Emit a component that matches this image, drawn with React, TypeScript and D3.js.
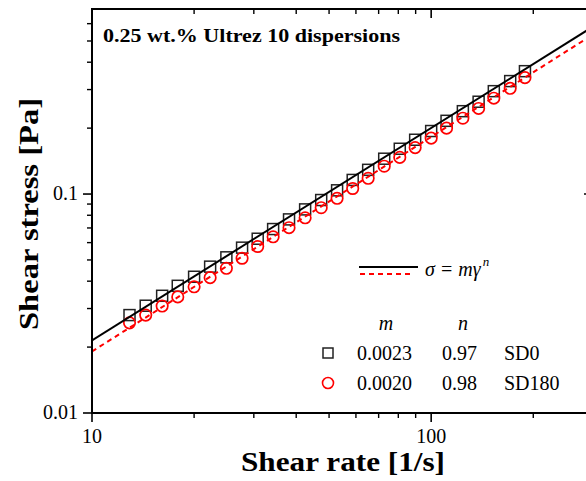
import React from "react";
import * as d3 from "d3";

// values
const shearRate = [12.9, 14.4, 16.1, 17.9, 20.0, 22.3, 24.9, 27.7, 30.8, 34.2, 38.1, 42.5, 47.4, 52.8, 58.7, 65.2, 72.7, 80.8, 89.7, 100, 111, 124, 138, 153, 171, 189];
const stressSD0 = [0.028, 0.0309, 0.0343, 0.0381, 0.0419, 0.0466, 0.0514, 0.0569, 0.0625, 0.0692, 0.0766, 0.0851, 0.0939, 0.104, 0.116, 0.129, 0.145, 0.161, 0.177, 0.194, 0.216, 0.239, 0.264, 0.295, 0.328, 0.364];
const stressSD180 = [0.0258, 0.028, 0.0308, 0.0339, 0.0377, 0.0415, 0.0458, 0.0509, 0.0576, 0.0638, 0.0702, 0.0779, 0.0866, 0.0956, 0.106, 0.118, 0.134, 0.147, 0.163, 0.18, 0.2, 0.222, 0.246, 0.274, 0.304, 0.34];
const seriesNames = ["SD0", "SD180"];
const fitM = ["0.0023", "0.0020"];
const fitN = ["0.97", "0.98"];
const xTickLabels = [10, 100];
const yTickLabels = [0.01, 0.1];
const xMinor = [20, 30, 40, 50, 60, 70, 80, 90, 200];
const yMinor = [0.02, 0.03, 0.04, 0.05, 0.06, 0.07, 0.08, 0.09, 0.2, 0.3, 0.4, 0.5, 0.6];

const W = 586;
const H = 481;
const frame = { left: 92, right: 593, top: 9, bottom: 413 };
const serif = "'Liberation Serif', 'DejaVu Serif', serif";

export default function App() {
  const x = d3.scaleLog().domain([10, 300]).range([frame.left, frame.right]);
  const y = d3.scaleLog().domain([0.01, 0.7]).range([frame.bottom, frame.top]);

  const fitLine = (i: number) => {
    const m = +fitM[i];
    const n = +fitN[i];
    const pts = [10, 300].map((g) => [g, m * Math.pow(g, n)] as [number, number]);
    return d3
      .line<[number, number]>()
      .x((d) => x(d[0]))
      .y((d) => y(d[1]))(pts) as string;
  };

  const axisStroke = "#000";

  return (
    <svg
      width={W}
      height={H}
      style={{ position: "absolute", left: 0, top: 0, background: "#fff" }}
      fontFamily={serif}
    >
      <defs>
        <clipPath id="plot">
          <rect x={frame.left} y={frame.top} width={frame.right - frame.left} height={frame.bottom - frame.top} />
        </clipPath>
      </defs>

      {/* markers */}
      <g clipPath="url(#plot)">
        {shearRate.map((g, i) => (
          <rect
            key={"s" + i}
            x={x(g) - 5.5}
            y={y(stressSD0[i]) - 5.5}
            width={11}
            height={11}
            fill="none"
            stroke="#222"
            strokeWidth={1.5}
          />
        ))}
        {shearRate.map((g, i) => (
          <circle
            key={"c" + i}
            cx={x(g)}
            cy={y(stressSD180[i])}
            r={5.7}
            fill="none"
            stroke="#ff0000"
            strokeWidth={1.7}
          />
        ))}
        <path d={fitLine(0)} fill="none" stroke="#000" strokeWidth={2} />
        <path d={fitLine(1)} fill="none" stroke="#ff0000" strokeWidth={2} strokeDasharray="5,4" />
      </g>

      {/* frame */}
      <rect
        x={frame.left}
        y={frame.top}
        width={frame.right - frame.left}
        height={frame.bottom - frame.top}
        fill="none"
        stroke={axisStroke}
        strokeWidth={2}
      />

      {/* x ticks */}
      {xTickLabels.map((t) => (
        <g key={"xt" + t}>
          <line x1={x(t)} x2={x(t)} y1={frame.bottom} y2={frame.bottom + 9} stroke={axisStroke} strokeWidth={1.6} />
          <line x1={x(t)} x2={x(t)} y1={frame.top} y2={frame.top + 9} stroke={axisStroke} strokeWidth={1.6} />
          <text x={x(t)} y={frame.bottom + 30} textAnchor="middle" fontSize={20}>
            {t}
          </text>
        </g>
      ))}
      {xMinor.map((t) => (
        <g key={"xm" + t}>
          <line x1={x(t)} x2={x(t)} y1={frame.bottom} y2={frame.bottom + 5} stroke={axisStroke} strokeWidth={1.4} />
          <line x1={x(t)} x2={x(t)} y1={frame.top} y2={frame.top + 5} stroke={axisStroke} strokeWidth={1.4} />
        </g>
      ))}

      {/* y ticks */}
      {yTickLabels.map((t) => (
        <g key={"yt" + t}>
          <line x1={frame.left - 9} x2={frame.left} y1={y(t)} y2={y(t)} stroke={axisStroke} strokeWidth={1.6} />
          <line x1={frame.right - 9} x2={frame.right} y1={y(t)} y2={y(t)} stroke={axisStroke} strokeWidth={1.6} />
          <text x={frame.left - 14} y={y(t) + 6} textAnchor="end" fontSize={20}>
            {t}
          </text>
        </g>
      ))}
      {yMinor.map((t) => (
        <g key={"ym" + t}>
          <line x1={frame.left - 5} x2={frame.left} y1={y(t)} y2={y(t)} stroke={axisStroke} strokeWidth={1.4} />
          <line x1={frame.right - 5} x2={frame.right} y1={y(t)} y2={y(t)} stroke={axisStroke} strokeWidth={1.4} />
        </g>
      ))}

      {/* axis titles */}
      <text
        x={343}
        y={471}
        textAnchor="middle"
        fontSize={28}
        fontWeight="bold"
        textLength={204}
        lengthAdjust="spacingAndGlyphs"
      >
        Shear rate [1/s]
      </text>
      <text
        transform="translate(38,214) rotate(-90)"
        textAnchor="middle"
        fontSize={28}
        fontWeight="bold"
        textLength={232}
        lengthAdjust="spacingAndGlyphs"
      >
        Shear stress [Pa]
      </text>

      {/* title */}
      <text x={103} y={42} fontSize={19} fontWeight="bold" textLength={297} lengthAdjust="spacingAndGlyphs">
        0.25 wt.% Ultrez 10 dispersions
      </text>

      {/* legend */}
      <line x1={359} x2={418} y1={267} y2={267} stroke="#000" strokeWidth={2} />
      <line x1={360} x2={412} y1={274} y2={274} stroke="#ff0000" strokeWidth={2} strokeDasharray="5,4" />
      <text x={425} y={276} fontSize={20} fontStyle="italic">
        σ = mγ
        <tspan fontSize={13} dy={-10} dx={2}>
          n
        </tspan>
      </text>
      <text x={386} y={330} fontSize={20} fontStyle="italic" textAnchor="middle">
        m
      </text>
      <text x={463} y={330} fontSize={20} fontStyle="italic" textAnchor="middle">
        n
      </text>
      {seriesNames.map((name, i) => {
        const cy = 353 + i * 30;
        return (
          <g key={name} fontSize={20}>
            {i === 0 ? (
              <rect x={323} y={cy - 5} width={10} height={10} fill="none" stroke="#222" strokeWidth={1.5} />
            ) : (
              <circle cx={328} cy={cy} r={5.5} fill="none" stroke="#ff0000" strokeWidth={1.6} />
            )}
            <text x={357} y={cy + 7}>
              {fitM[i]}
            </text>
            <text x={442} y={cy + 7}>
              {fitN[i]}
            </text>
            <text x={504} y={cy + 7}>
              {name}
            </text>
          </g>
        );
      })}
    </svg>
  );
}
